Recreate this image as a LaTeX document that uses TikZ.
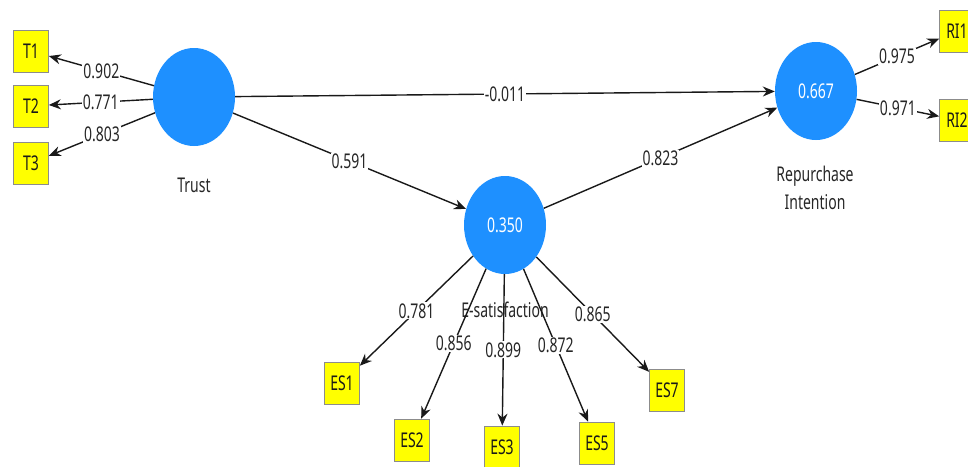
\documentclass[tikz,border=0pt]{standalone}
\usepackage{graphicx}
\usepackage{fontspec}
\setmainfont{Noto Sans}
\usetikzlibrary{shapes.geometric,arrows.meta}
\definecolor{lvblue}{RGB}{30,144,255}
\definecolor{mvyellow}{RGB}{255,255,0}
\newcommand{\stx}[1]{\scalebox{1}[1.45]{#1}}
\begin{document}
\begin{tikzpicture}[x=1pt,y=-1pt,
 txt/.style={font=\fontsize{14}{17}\selectfont, text=black!85, inner sep=1pt},
 latent/.style={ellipse, fill=lvblue, minimum width=82pt, minimum height=98pt, inner sep=0pt, text=white, font=\fontsize{14}{17}\selectfont},
 ind/.style={rectangle, fill=mvyellow, draw=black!45, line width=0.7pt, minimum width=35pt, minimum height=42pt, inner sep=0pt, font=\fontsize{14}{17}\selectfont, text=black!90},
 conn/.style={draw=black!90, line width=1.4pt, -{Stealth[length=12pt,width=10pt]}},
 lbl/.style={txt, fill=white, pos=0.5}
]
\useasboundingbox (0,0) rectangle (968,466);
% latent variables
\node[latent] (trust) at (194,97) {};
\node[latent] (rep) at (816,91) {\stx{0.667}};
\node[latent] (esat) at (505,225) {\stx{0.350}};
% latent labels
\node[txt] (trustlbl) at (194,185) {\stx{Trust}};
\node[txt] (replbla) at (815,176) {\stx{Repurchase}};
\node[txt] (replblb) at (815,202) {\stx{Intention}};
\node[txt] (esatlbl) at (505,310) {\stx{E-satisfaction}};
% indicators
\node[ind] (T1) at (31,51) {\stx{T1}};
\node[ind] (T2) at (31,106) {\stx{T2}};
\node[ind] (T3) at (31,163) {\stx{T3}};
\node[ind] (RI1) at (957,31) {\stx{RI1}};
\node[ind] (RI2) at (957,120) {\stx{RI2}};
\node[ind] (ES1) at (342,383) {\stx{ES1}};
\node[ind] (ES2) at (412,440) {\stx{ES2}};
\node[ind] (ES3) at (502,447) {\stx{ES3}};
\node[ind] (ES5) at (597,443) {\stx{ES5}};
\node[ind] (ES7) at (667,390) {\stx{ES7}};
% outer loadings
\draw[conn] (trust) -- node[lbl]{\stx{0.902}} (T1);
\draw[conn] (trust) -- node[lbl]{\stx{0.771}} (T2);
\draw[conn] (trust) -- node[lbl]{\stx{0.803}} (T3);
\draw[conn] (rep) -- node[lbl]{\stx{0.975}} (RI1);
\draw[conn] (rep) -- node[lbl]{\stx{0.971}} (RI2);
\draw[conn] (esat) -- node[lbl]{\stx{0.781}} (ES1);
\draw[conn] (esat) -- node[lbl]{\stx{0.856}} (ES2);
\draw[conn] (esat) -- node[lbl]{\stx{0.899}} (ES3);
\draw[conn] (esat) -- node[lbl]{\stx{0.872}} (ES5);
\draw[conn] (esat) -- node[lbl]{\stx{0.865}} (ES7);
% path coefficients
\draw[conn] (trust) -- node[lbl]{\stx{-0.011}} (rep);
\draw[conn] (trust) -- node[lbl]{\stx{0.591}} (esat);
\draw[conn] (esat) -- node[lbl]{\stx{0.823}} (rep);
\end{tikzpicture}
\end{document}
